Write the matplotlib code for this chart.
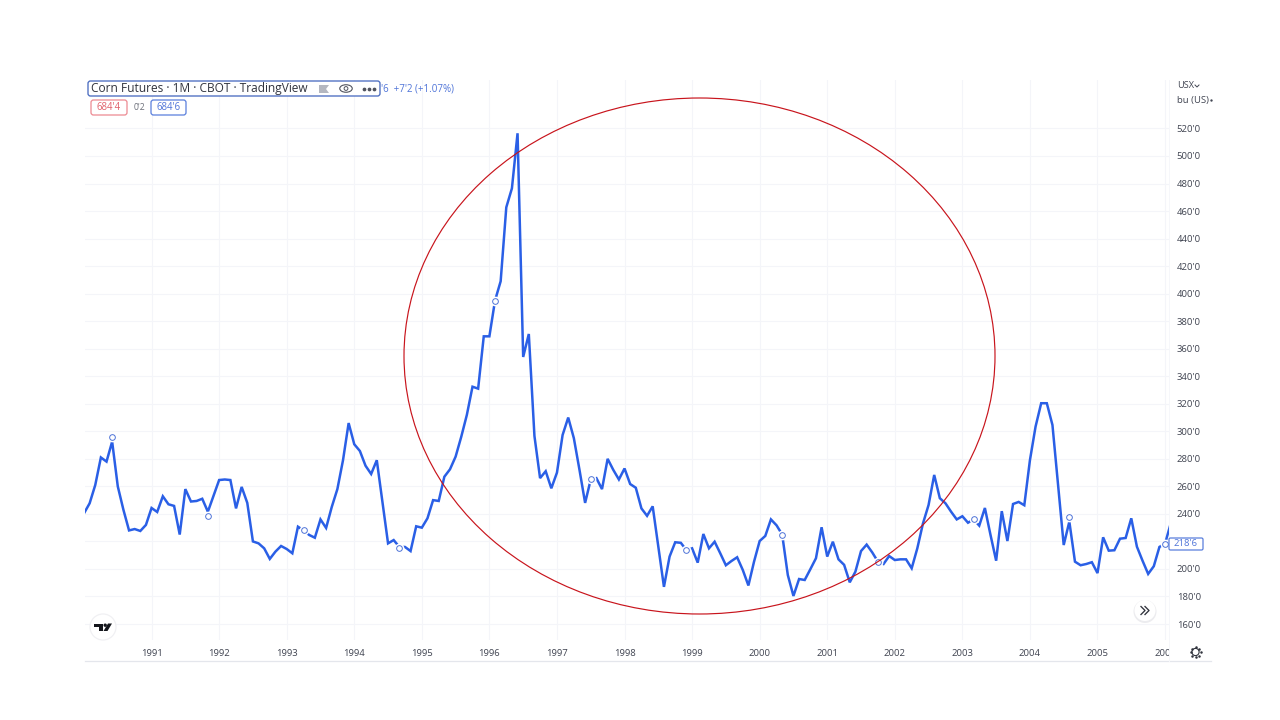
import matplotlib
matplotlib.use("Agg")
import matplotlib.pyplot as plt
from matplotlib.patches import Ellipse, FancyBboxPatch, Polygon, Circle
from matplotlib.transforms import Bbox, TransformedBbox

plt.rcParams["font.family"] = ["Open Sans", "DejaVu Sans"]

# monthly close, cents per bushel, starting January 1990
prices = [
    240.4, 247.7, 261, 281, 278, 292.5, 260, 243, 228, 229, 227.6, 232,
    244.3, 241.4, 252.8, 247, 245.8, 225, 258, 249, 249.4, 251, 241.6, 253,
    264.6, 265, 264.6, 244, 259.6, 248, 220, 218.6, 215, 207.3, 212.6, 216.7,
    214.5, 211.4, 230.7, 228, 224.7, 222.7, 236, 229.8, 245, 258, 279, 306,
    290.6, 285.7, 275, 269, 279, 249, 218.6, 221, 216, 216, 213, 231,
    230, 236.8, 250, 249.4, 267, 272.4, 281.6, 296, 312, 332.4, 331, 369,
    369, 395, 409, 462.7, 476.5, 516.5, 354, 370.7, 296.6, 266, 271, 258.6,
    270, 297.3, 310, 295, 272, 248, 265, 266, 258, 280, 272, 265,
    273, 261.7, 259, 244, 238.6, 245.5, 216.2, 187, 209, 219.4, 219, 213.6,
    215, 204.6, 225.4, 215, 219.8, 211.4, 202.7, 205.8, 208.5, 199.3, 188, 205.3,
    220.3, 224, 236, 231.7, 225, 195.6, 180.4, 192.7, 192, 199.8, 207.8, 230.3,
    209, 219.8, 207, 203, 190.3, 198, 213, 217.7, 212, 205.3, 203.6, 209.4,
    206.5, 207, 207, 200.5, 215, 233, 246.5, 268.3, 251.4, 247.7, 241.6, 236,
    238.3, 233.6, 236, 231.5, 244.3, 224.7, 206, 242, 220.3, 247.2, 248.7, 246.3,
    279, 303.4, 320.4, 320.4, 304.6, 261, 217.4, 234.4, 205.3, 202.7, 203.6, 204.9,
    197, 223, 213.3, 213.6, 222, 222.5, 236.8, 216.2, 206, 196.4, 202, 216,
    218.4, 233,
]
# months that carry the small round event marker
event_months = [5, 22, 39, 56, 73, 90, 107, 124, 141, 158, 175, 192]
event_values = [295.7, 238.7, 228, 215, 395, 265, 213.6, 225, 205.3, 236, 238, 218.4]
years = list(range(1991, 2007))
y_ticks = list(range(160, 521, 20))

BLUE = "#2a5fe6"
GRID = "#f4f5f9"
TEXT = "#3f4350"

fig = plt.figure(figsize=(12.8, 7.2), dpi=100, facecolor="white")

# chart pane, in pixels : x 85..1169, y 80..640
ax = fig.add_axes([85 / 1280, 1 - 640 / 720, (1169 - 85) / 1280, 560 / 720])
ax.plot(range(len(prices)), prices, color=BLUE, lw=1.8, solid_joinstyle="miter", zorder=3)
ax.plot(event_months, event_values, ls="none", marker="o", ms=6, mfc="white", mec="white", zorder=4)
ax.plot(event_months, event_values, ls="none", marker="o", ms=4.1, mfc="white", mec="#4f74d8", mew=0.7, zorder=5)

ax.set_xlim(0.178, 192.7)
ax.set_ylim(148.4, 555.2)
ax.set_xticks([(y - 1990) * 12 for y in years])
ax.set_xticklabels([str(y) for y in years])
ax.set_yticks(y_ticks)
# the 220 label sits behind the last price tag
ax.set_yticklabels(["" if v == 220 else f"{v}'0" for v in y_ticks])
ax.yaxis.tick_right()
ax.tick_params(axis="both", length=0, labelsize=6.8, labelcolor=TEXT)
ax.tick_params(axis="x", pad=6.5)
ax.tick_params(axis="y", pad=5.5)
ax.grid(color=GRID, lw=0.75)
ax.set_axisbelow(True)
for s in ax.spines.values():
    s.set_visible(False)

# the last year label is cut by the price scale
clip = TransformedBbox(Bbox([[0, 0], [1169 / 1280, 1]]), fig.transFigure)
for lab in ax.get_xticklabels():
    lab.set_clip_on(True)
    lab.set_clip_box(clip)

# overlay in pixel coordinates for the widgets and the hand drawn ellipse
ov = fig.add_axes([0, 0, 1, 1], zorder=10)
ov.set_xlim(0, 1280)
ov.set_ylim(720, 0)
ov.axis("off")
ov.patch.set_alpha(0)

ov.plot([85, 1211], [661, 661], color="#e4e6ec", lw=0.9)
ov.plot([1169, 1169], [80, 661], color="#f6f7fa", lw=0.7)

ov.add_patch(Ellipse((699.5, 356), 591, 516, fill=False, ec="#c8141c", lw=0.85))


def box(x0, y0, x1, y1, color, lw=0.9, r=2.5):
    ov.add_patch(FancyBboxPatch((x0, y0), x1 - x0, y1 - y0,
                                boxstyle=f"round,pad=0,rounding_size={r}",
                                fc="white", ec=color, lw=lw, zorder=2))


ov.text(381, 89, "'6  +7'2 (+1.07%)", color="#4f74d8", fontsize=7.0, va="center", ha="left")
box(88, 81, 380, 96, "#4a6cc0", lw=0.95)
ov.text(91, 88.7, "Corn Futures · 1M · CBOT · TradingView", color="#30333d", fontsize=8.6,
        va="center", ha="left", zorder=3)
ov.add_patch(Polygon([[319, 85], [329, 85], [326, 89], [329, 93], [319, 93]], fc="#b4b7c0", ec="none", zorder=3))
ov.add_patch(Ellipse((346, 88.5), 12.5, 7.5, fill=False, ec="#50535e", lw=0.8, zorder=3))
ov.add_patch(Circle((346, 88.5), 1.9, fill=False, ec="#50535e", lw=0.7, zorder=3))
ov.plot([364, 369, 374], [88.5, 88.5, 88.5], ls="none", marker="o", ms=1.7, color="#50535e", zorder=3)

box(91, 100, 127, 115, "#ec8a92")
ov.text(109, 107.7, "684'4", color="#e0606a", fontsize=6.9, va="center", ha="center", zorder=3)
ov.text(139, 107.7, "0'2", color="#6c6f7a", fontsize=6.2, va="center", ha="center")
box(151, 100, 186, 115, "#5a7fdc")
ov.text(168.5, 107.7, "684'6", color="#4f74d8", fontsize=6.9, va="center", ha="center", zorder=3)

ov.text(1177, 86, "USX", color=TEXT, fontsize=6.6, va="center", ha="left")
ov.plot([1195, 1197, 1199], [85, 87, 85], color=TEXT, lw=0.7)
ov.text(1177, 100, "bu (US)", color=TEXT, fontsize=6.8, va="center", ha="left")
ov.plot([1210.5], [100], marker="o", ms=0.7, color=TEXT)

box(1169, 538, 1203, 550, "#5a7fdc", r=1.5)
ov.text(1186, 544, "218'6", color="#4f74d8", fontsize=6.8, va="center", ha="center", zorder=3)

# scroll button
ov.add_patch(Circle((1145, 611.5), 11.5, fc="#ececef", ec="none", zorder=2))
ov.add_patch(Circle((1145, 610.5), 10.5, fc="white", ec="none", zorder=2))
for dx in (0, 4):
    ov.plot([1141 + dx, 1145 + dx, 1141 + dx], [606.5, 610.5, 614.5], color="#30333d", lw=0.95, zorder=3)

# TradingView logo
ov.add_patch(Circle((103, 627), 13, fc="white", ec="#f0f0f3", lw=0.9, zorder=2))
ov.add_patch(Polygon([[94, 623.5], [103, 623.5], [103, 631], [99, 631], [99, 627], [94, 627]], fc="#14161c", ec="none", zorder=3))
ov.add_patch(Polygon([[108, 623.5], [112, 623.5], [107.5, 631], [103.5, 631]], fc="#14161c", ec="none", zorder=3))
ov.add_patch(Circle((105.2, 625.2), 1.7, fc="#14161c", ec="none", zorder=3))

# settings icon
ov.add_patch(Circle((1195.5, 652), 3.6, fill=False, ec="#30333d", lw=0.8))
for px, py in [(1195.5, 647), (1195.5, 657), (1190.5, 652), (1200.5, 652),
               (1192, 648.5), (1199, 648.5), (1192, 655.5), (1199, 655.5)]:
    ov.plot([px], [py], marker="o", ms=0.8, color="#30333d")

fig.savefig("out.png", dpi=100)
